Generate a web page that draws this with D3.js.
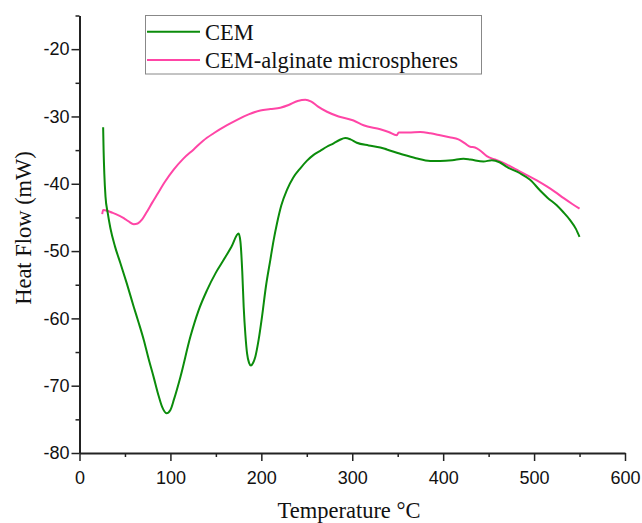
<!DOCTYPE html>
<html>
<head>
<meta charset="utf-8">
<script src="https://cdn.jsdelivr.net/npm/d3@7"></script>
<style>
  body { margin: 0; background: #fff; }
  svg { display: block; }
</style>
</head>
<body>
<svg id="chart"></svg>
<script>
// Data
const cemTemp = [26, 26.5, 27.3, 28.6, 31, 34, 39, 45, 52, 59.7, 65, 70.7, 76, 81.7, 87, 91, 95.6, 100, 104, 111,
  122, 131, 140.3, 150, 158.6, 167, 175, 177, 179, 180.6, 182.5, 184.3, 186.5, 188.6, 191, 193.4, 197, 200.8,
  205, 209.9, 213.5, 217.2, 222, 228.2, 235, 242.9, 250, 257.5, 264.8, 272, 279.5, 286, 292.3, 298, 305, 318,
  330.8, 338, 356.4, 370, 385.7, 396.7, 410, 422.3, 429.7, 444.3, 453.5, 462, 470, 484, 495.6, 506.6, 515,
  524.9, 532, 539.6, 546, 550];
const cemFlow = [-31.6, -35, -38.5, -41.9, -44.3, -46.6, -49.3, -51.8, -54.8, -58.3, -60.6, -63.2, -66, -68.8,
  -71.5, -73.2, -74.1, -73.6, -72, -68.7, -62.7, -58.8, -55.8, -53.2, -51.3, -49.4, -47.4, -48.6, -53, -58.3,
  -62.5, -65.2, -66.6, -67.0, -66.6, -65.7, -63.2, -59.7, -55.3, -51.3, -48.4, -45.9, -43.2, -40.9, -39.1,
  -37.7, -36.6, -35.7, -35.1, -34.5, -34.0, -33.5, -33.2, -33.4, -33.9, -34.3, -34.6, -34.9, -35.7, -36.2,
  -36.6, -36.6, -36.5, -36.3, -36.4, -36.7, -36.5, -36.8, -37.5, -38.4, -39.4, -41.0, -42.1, -43.2, -44.2,
  -45.4, -46.7, -47.9];

const algTemp = [25, 26, 30.4, 34, 40, 48.7, 54, 59.7, 64, 68.9, 74, 80, 85.4, 94, 103.6, 114, 125.6, 136,
  147.6, 162.3, 173.3, 186, 198.9, 210, 220.9, 230, 240, 248.4, 255, 262, 272.2, 285, 301.4, 312.4, 330.8,
  340, 349, 351, 362, 374.7, 386, 396.7, 407, 416.8, 424, 429.7, 435, 441, 448, 457, 466.3, 479, 492, 503,
  514, 523, 532.2, 542, 550];
const algFlow = [-44.5, -43.9, -44.0, -44.2, -44.5, -45.1, -45.6, -46.0, -45.9, -45.3, -44.2, -42.8, -41.6,
  -39.7, -37.9, -36.3, -34.9, -33.6, -32.5, -31.3, -30.5, -29.7, -29.1, -28.9, -28.7, -28.3, -27.7, -27.5,
  -27.8, -28.5, -29.3, -30.0, -30.6, -31.3, -31.9, -32.3, -32.8, -32.4, -32.4, -32.3, -32.5, -32.8, -33.1,
  -33.4, -34.0, -34.5, -34.6, -35.1, -35.9, -36.4, -36.9, -37.8, -38.7, -39.5, -40.4, -41.2, -42.1, -43.0,
  -43.7];

const seriesNames = ["CEM", "CEM-alginate microspheres"];
const seriesColors = ["#0b8c0b", "#ff45a6"];
const xTicks = [0, 100, 200, 300, 400, 500, 600];
const yTicks = [-80, -70, -60, -50, -40, -30, -20];

const width = 642, height = 523;
const svg = d3.select("#chart").attr("width", width).attr("height", height);

const x = d3.scaleLinear().domain([0, 600]).range([79.5, 625]);
const y = d3.scaleLinear().domain([-80, -15]).range([453, 15.5]);

const sans = "'Liberation Sans', Arial, sans-serif";
const serif = "'Liberation Serif', 'Times New Roman', serif";

// minor ticks
svg.append("g")
    .attr("transform", `translate(0,${y(-80)})`)
    .call(d3.axisBottom(x).tickValues(d3.range(50, 600, 100)).tickSize(4).tickFormat(""))
    .call(g => g.select(".domain").remove())
    .selectAll("line").attr("stroke", "#222").attr("stroke-width", 1.5);
svg.append("g")
    .attr("transform", `translate(${x(0)},0)`)
    .call(d3.axisLeft(y).tickValues(d3.range(-75, -10, 10)).tickSize(4).tickFormat(""))
    .call(g => g.select(".domain").remove())
    .selectAll("line").attr("stroke", "#222").attr("stroke-width", 1.5);

// major axes (plain hyphen for negatives, as in the figure)
const xAxis = svg.append("g")
    .attr("transform", `translate(0,${y(-80)})`)
    .call(d3.axisBottom(x).tickValues(xTicks).tickSize(8).tickSizeOuter(0).tickPadding(10)
      .tickFormat(d => String(d)));
const yAxis = svg.append("g")
    .attr("transform", `translate(${x(0)},0)`)
    .call(d3.axisLeft(y).tickValues(yTicks).tickSize(8).tickSizeOuter(0).tickPadding(2)
      .tickFormat(d => String(d)));

[xAxis, yAxis].forEach(g => {
  g.select(".domain").attr("stroke", "#222").attr("stroke-width", 2);
  g.selectAll(".tick line").attr("stroke", "#222").attr("stroke-width", 1.5);
  g.selectAll(".tick text").attr("font-family", sans).attr("font-size", 18).attr("fill", "#111");
});

// lines
const line = d3.line()
    .x(d => x(d[0]))
    .y(d => y(d[1]))
    .curve(d3.curveMonotoneX);

const cemData = cemTemp.map((t, i) => [t, cemFlow[i]]);
const algData = algTemp.map((t, i) => [t, algFlow[i]]);

svg.append("path")
    .datum(algData)
    .attr("fill", "none")
    .attr("stroke", seriesColors[1])
    .attr("stroke-width", 2)
    .attr("d", line);

svg.append("path")
    .datum(cemData)
    .attr("fill", "none")
    .attr("stroke", seriesColors[0])
    .attr("stroke-width", 2)
    .attr("d", line);

// axis titles
svg.append("text")
    .attr("x", 349)
    .attr("y", 518)
    .attr("text-anchor", "middle")
    .attr("font-family", serif)
    .attr("font-size", 22.5)
    .attr("fill", "#111")
    .text("Temperature \u00B0C");

svg.append("text")
    .attr("transform", "translate(31,228) rotate(-90)")
    .attr("text-anchor", "middle")
    .attr("font-family", serif)
    .attr("font-size", 22.5)
    .attr("fill", "#111")
    .text("Heat Flow (mW)");

// legend
const legend = svg.append("g");
legend.append("rect")
    .attr("x", 145.5).attr("y", 15.5)
    .attr("width", 336).attr("height", 58.5)
    .attr("fill", "#fff")
    .attr("stroke", "#888")
    .attr("stroke-width", 1);

seriesNames.forEach((name, i) => {
  const ly = 31.7 + i * 28.3;
  legend.append("line")
      .attr("x1", 147).attr("x2", 200)
      .attr("y1", ly).attr("y2", ly)
      .attr("stroke", seriesColors[i])
      .attr("stroke-width", 2);
  legend.append("text")
      .attr("x", 205)
      .attr("y", ly + 8)
      .attr("font-family", serif)
      .attr("font-size", 22.5)
      .attr("fill", "#111")
      .text(name);
});
</script>
</body>
</html>
